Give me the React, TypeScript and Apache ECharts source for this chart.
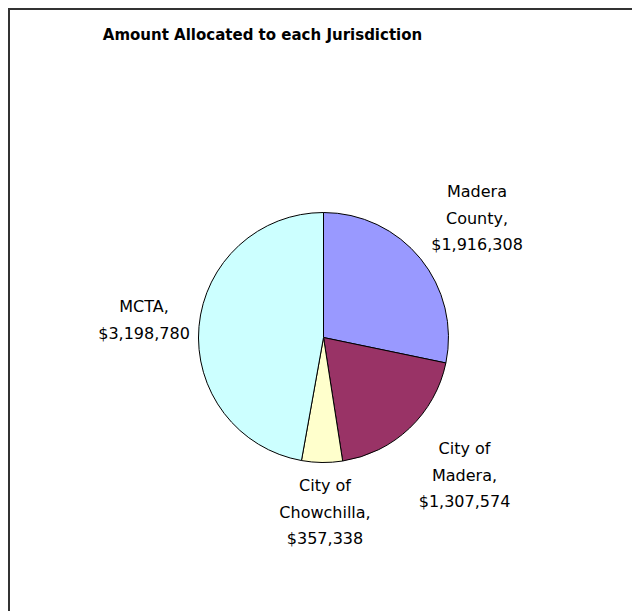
import React, { useEffect, useRef } from "react";
import * as echarts from "echarts";

const titleText = "Amount Allocated to each Jurisdiction";
const categories = ["Madera County", "City of Madera", "City of Chowchilla", "MCTA"];
const labelNames = ["Madera\nCounty,", "City of\nMadera,", "City of\nChowchilla,", "MCTA,"];
const values = [1916308, 1307574, 357338, 3198780];
const colors = ["#9999FF", "#993366", "#FFFFCC", "#CCFFFF"];
const labelPositions = [
  [477, 218],
  [464.5, 475],
  [325, 512],
  [144, 320],
];

export default function App() {
  const ref = useRef<HTMLDivElement>(null);
  useEffect(() => {
    if (!ref.current) return;
    const chart = echarts.init(ref.current, null, { renderer: "svg" });
    chart.setOption({
      animation: false,
      backgroundColor: "#ffffff",
      title: {
        text: titleText,
        left: 262.5,
        top: 26,
        padding: 0,
        textAlign: "center",
        textStyle: {
          fontFamily: "DejaVu Sans",
          fontWeight: "bold",
          fontSize: 15,
          lineHeight: 18,
          color: "#000000",
        },
      },
      graphic: [
        {
          type: "rect",
          shape: { x: 9, y: 9, width: 700, height: 700 },
          style: { fill: "none", stroke: "#333333", lineWidth: 2 },
          silent: true,
        },
      ],
      series: [
        {
          type: "pie",
          center: [323.5, 337.5],
          radius: 125,
          startAngle: 90,
          clockwise: true,
          avoidLabelOverlap: false,
          data: categories.map((c, i) => ({
            name: c,
            value: values[i],
            itemStyle: { color: colors[i] },
          })),
          itemStyle: { borderColor: "#000000", borderWidth: 1 },
          label: {
            show: true,
            position: "outside",
            formatter: (p: any) =>
              labelNames[p.dataIndex] + "\n$" + Number(p.value).toLocaleString("en-US"),
            fontFamily: "DejaVu Sans",
            fontSize: 16,
            lineHeight: 26.5,
            color: "#000000",
            align: "center",
          },
          labelLine: { show: false },
          labelLayout: (params: any) => ({
            x: labelPositions[params.dataIndex][0],
            y: labelPositions[params.dataIndex][1],
            align: "center",
            verticalAlign: "middle",
          }),
          emphasis: { disabled: true },
        },
      ],
    });
    return () => chart.dispose();
  }, []);
  return (
    <div
      ref={ref}
      style={{ position: "absolute", left: 0, top: 0, width: 632, height: 611 }}
    />
  );
}
